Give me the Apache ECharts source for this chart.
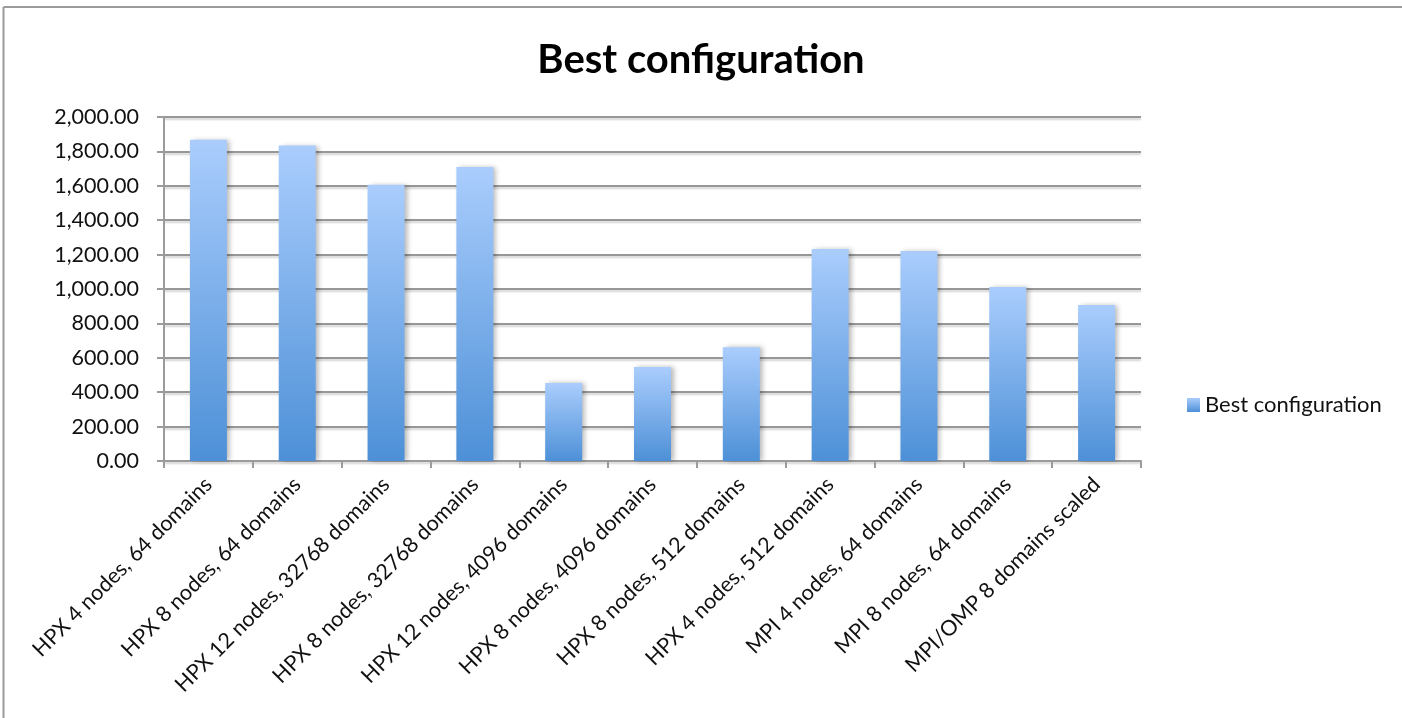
<!DOCTYPE html>
<html>
<head>
<meta charset="utf-8">
<title>Best configuration</title>
<script src="https://cdn.jsdelivr.net/npm/echarts@6/dist/echarts.min.js"></script>
<style>
  html, body { margin: 0; padding: 0; background: #fff; overflow: hidden; }
  #chart { width: 1402px; height: 718px; }
</style>
</head>
<body>
<div id="chart"></div>
<script>
// Run configurations compared on the x axis
const categories = [
  'HPX 4 nodes, 64 domains',
  'HPX 8 nodes, 64 domains',
  'HPX 12 nodes, 32768 domains',
  'HPX 8 nodes, 32768 domains',
  'HPX 12 nodes, 4096 domains',
  'HPX 8 nodes, 4096 domains',
  'HPX 8 nodes, 512 domains',
  'HPX 4 nodes, 512 domains',
  'MPI 4 nodes, 64 domains',
  'MPI 8 nodes, 64 domains',
  'MPI/OMP 8 domains scaled'
];

// Best result for each configuration
const bestValues = [1868, 1834, 1606, 1710, 453, 546, 662, 1233, 1221, 1012, 907];

const seriesName = 'Best configuration';
const chartTitle = 'Best configuration';

const FONT = 'Lato, "Open Sans", sans-serif';

const barGradient = () => new echarts.graphic.LinearGradient(0, 0, 0, 1, [
  { offset: 0, color: '#aacdfd' },
  { offset: 1, color: '#4d90d7' }
]);

const chart = echarts.init(document.getElementById('chart'), null, { renderer: 'canvas' });

chart.setOption({
  backgroundColor: '#ffffff',
  animation: false,
  textStyle: { fontFamily: FONT },
  // chart frame: only the top and left edges fall inside the canvas
  graphic: [
    {
      type: 'line',
      shape: { x1: 3.5, y1: 7, x2: 1410, y2: 7 },
      style: { stroke: '#9b9b9b', lineWidth: 2 },
      silent: true
    },
    {
      type: 'line',
      shape: { x1: 3.5, y1: 7, x2: 3.5, y2: 730 },
      style: { stroke: '#9b9b9b', lineWidth: 2 },
      silent: true
    }
  ],
  title: {
    text: chartTitle,
    left: 'center',
    top: 40,
    padding: 0,
    textStyle: { fontFamily: FONT, fontSize: 40, fontWeight: 'bold', color: '#000' }
  },
  legend: {
    orient: 'vertical',
    left: 1187,
    top: 394,
    padding: 0,
    itemWidth: 13,
    itemHeight: 14,
    textStyle: { fontFamily: FONT, fontSize: 22, color: '#111' },
    data: [{ name: seriesName, icon: 'rect' }]
  },
  grid: { left: 164, right: 261, top: 117, bottom: 257, containLabel: false },
  xAxis: {
    type: 'category',
    data: categories,
    boundaryGap: true,
    axisLine: { lineStyle: { color: '#9b9b9b', width: 2 } },
    axisTick: { show: true, length: 7, alignWithLabel: false, lineStyle: { color: '#9b9b9b', width: 2 } },
    axisLabel: {
      interval: 0,
      rotate: 45,
      margin: 20,
      fontFamily: FONT,
      fontSize: 21.5,
      color: '#111'
    }
  },
  yAxis: {
    type: 'value',
    min: 0,
    max: 2000,
    interval: 200,
    axisLine: { show: true, lineStyle: { color: '#9b9b9b', width: 2 } },
    axisTick: { show: true, length: 7, lineStyle: { color: '#9b9b9b', width: 2 } },
    axisLabel: {
      margin: 25,
      fontFamily: FONT,
      fontSize: 21.5,
      color: '#111',
      formatter: v => v.toLocaleString('en-US', { minimumFractionDigits: 2, maximumFractionDigits: 2 })
    },
    splitLine: {
      show: true,
      lineStyle: {
        color: '#979797',
        width: 2,
        shadowColor: 'rgba(0,0,0,0.18)',
        shadowBlur: 2,
        shadowOffsetY: 2
      }
    }
  },
  series: [{
    name: seriesName,
    type: 'bar',
    data: bestValues,
    barWidth: 37,
    itemStyle: {
      color: barGradient(),
      shadowColor: 'rgba(0,0,0,0.28)',
      shadowBlur: 5,
      shadowOffsetX: 3,
      shadowOffsetY: 0
    },
    z: 3
  }]
});
</script>
</body>
</html>
